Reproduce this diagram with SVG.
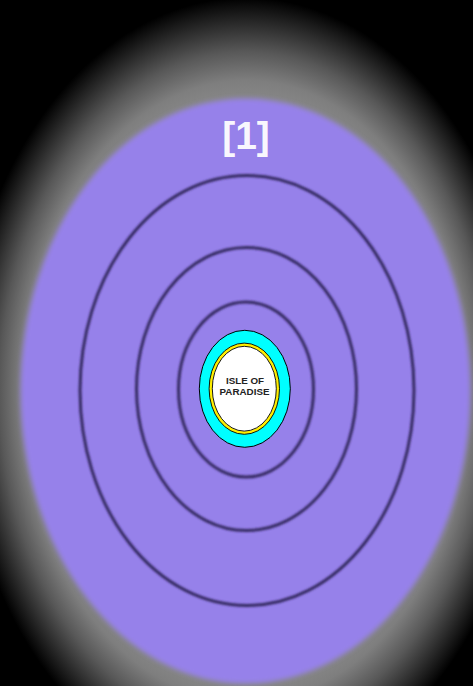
<svg xmlns="http://www.w3.org/2000/svg" width="473" height="686" viewBox="0 0 473 686">
  <style>
    .ring { fill: none; stroke: #362a62; stroke-width: 3; filter: url(#blur1); }
    .lbl { font-family: "Liberation Sans", Arial, sans-serif; font-weight: bold; text-anchor: middle; }
  </style>
  <defs>
    <radialGradient id="glow" gradientUnits="userSpaceOnUse" cx="0" cy="0" r="300" gradientTransform="translate(245.5 391) scale(1 1.38)">
      <stop offset="0" stop-color="#8c8c8c"/>
      <stop offset="0.70" stop-color="#888888"/>
      <stop offset="0.75" stop-color="#7e7e7e"/>
      <stop offset="0.82" stop-color="#585858"/>
      <stop offset="0.95" stop-color="#000000"/>
      <stop offset="1" stop-color="#000000"/>
    </radialGradient>
    <filter id="blur1" x="-10%" y="-10%" width="120%" height="120%">
      <feGaussianBlur stdDeviation="1.3"/>
    </filter>
    <filter id="blur2" x="-5%" y="-5%" width="110%" height="110%">
      <feGaussianBlur stdDeviation="2.5"/>
    </filter>
  </defs>

  <rect x="0" y="0" width="473" height="686" fill="#000"/>
  <rect x="0" y="0" width="473" height="686" fill="url(#glow)"/>

  <g id="region1">
    <ellipse cx="245.5" cy="391" rx="225" ry="292.5" fill="#9681ea" filter="url(#blur2)"/>
    <text class="lbl" x="246" y="148.5" font-size="39" fill="#ffffff" fill-opacity="0.95">[1]</text>
  </g>

  <g id="orbits">
    <ellipse class="ring" cx="247" cy="390.5" rx="167" ry="215"/>
    <ellipse class="ring" cx="246.5" cy="389" rx="110" ry="141.5"/>
    <ellipse class="ring" cx="246" cy="389.5" rx="67.5" ry="87.5" stroke-width="3.6"/>
  </g>

  <g id="isle">
    <ellipse cx="244.8" cy="388.8" rx="45.5" ry="58.5" fill="#00ffff" stroke="#000" stroke-width="1"/>
    <ellipse cx="244.3" cy="388.7" rx="33.6" ry="44" fill="#ffffff" stroke="#ffee00" stroke-width="3"/>
    <ellipse cx="244.3" cy="388.7" rx="35.2" ry="45.6" fill="none" stroke="#000" stroke-width="0.9"/>
    <ellipse cx="244.3" cy="388.7" rx="32" ry="42.4" fill="none" stroke="#000" stroke-width="0.9"/>
    <text class="lbl" x="245" y="384.3" font-size="9.8" fill="#222">ISLE OF</text>
    <text class="lbl" x="244.5" y="395" font-size="9.8" fill="#222">PARADISE</text>
  </g>
</svg>
